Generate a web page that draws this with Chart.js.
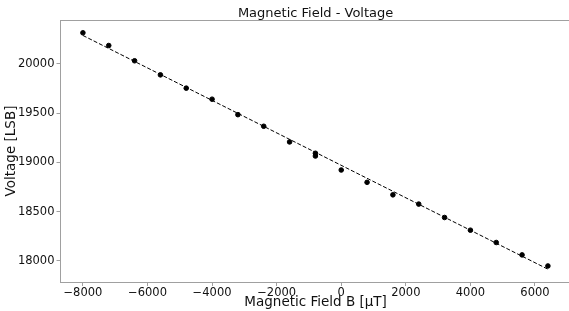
<!DOCTYPE html>
<html>
<head>
<meta charset="utf-8">
<script src="https://cdn.jsdelivr.net/npm/chart.js@4.4.1/dist/chart.umd.min.js"></script>
<style>
  html, body { margin: 0; padding: 0; background: #fff; overflow: hidden; }
  #wrap { width: 574px; height: 311px; position: relative; }
</style>
</head>
<body>
<div id="wrap"><canvas id="field_canvas"></canvas></div>
<script>
// measured points
var fieldB = [-8000, -7200, -6400, -5600, -4800, -4000, -3200, -2400, -1600, -800, -800,
              0, 800, 1600, 2400, 3200, 4000, 4800, 5600, 6400];
var voltage = [20315, 20186, 20031, 19888, 19753, 19641, 19484, 19366, 19207, 19092, 19064,
               18922, 18797, 18670, 18576, 18440, 18311, 18186, 18060, 17948];

// linear fit, end points
var fitB = [-8000, 6400];
var fitVoltage = [20288, 17915];

var xTicks = [-8000, -6000, -4000, -2000, 0, 2000, 4000, 6000];
var yTicks = [18000, 18500, 19000, 19500, 20000];

function toPoints(xs, ys) {
    var pts = [];
    for (let i = 0; i < xs.length; i++) {
        pts.push({x: xs[i], y: ys[i]});
    }
    return pts;
}

// matplotlib style frame (top spine)
var framePlugin = {
    id: 'frame',
    afterDraw: function(chart) {
        var a = chart.chartArea;
        var ctx = chart.ctx;
        ctx.save();
        ctx.strokeStyle = '#a0a0a0';
        ctx.lineWidth = 1;
        ctx.beginPath();
        ctx.moveTo(a.left, a.top + 0.5);
        ctx.lineTo(a.right, a.top + 0.5);
        ctx.stroke();
        ctx.restore();
    }
};

var font = "'DejaVu Sans', sans-serif";

const fieldCanvas = document.getElementById("field_canvas");
const fieldChart = new Chart(fieldCanvas, {
    type: "scatter",
    data: {
        datasets: [{
            label: 'data',
            data: toPoints(fieldB, voltage),
            backgroundColor: '#000',
            borderColor: '#000',
            pointRadius: 2.3,
            pointHoverRadius: 2.3,
            showLine: false
        }, {
            label: 'fit',
            data: toPoints(fitB, fitVoltage),
            borderColor: '#000',
            borderWidth: 1,
            borderDash: [4, 2],
            pointRadius: 0,
            showLine: true,
            fill: false
        }]
    },
    options: {
        responsive: true,
        maintainAspectRatio: false,
        animation: false,
        layout: { padding: 0 },
        plugins: {
            legend: { display: false },
            tooltip: { enabled: false },
            title: {
                display: true,
                text: 'Magnetic Field - Voltage',
                fullSize: false,
                color: '#111',
                font: { family: font, size: 13, weight: 'normal', lineHeight: 1 },
                padding: { top: 7, bottom: 0 }
            }
        },
        scales: {
            x: {
                type: 'linear',
                min: -8694,
                max: 7106,
                afterFit: function(scale) { scale.height = 29; },
                afterBuildTicks: function(scale) {
                    scale.ticks = xTicks.map(function(v) { return {value: v}; });
                },
                border: { color: '#a0a0a0', width: 1 },
                grid: { drawOnChartArea: false, color: '#a0a0a0', tickLength: 4 },
                ticks: {
                    color: '#111',
                    padding: 0,
                    maxRotation: 0,
                    font: { family: font, size: 11.5 },
                    callback: function(v) { return String(v).replace('-', '\u2212'); }
                },
                title: {
                    display: true,
                    text: 'Magnetic Field B [\u03bcT]',
                    color: '#111',
                    font: { family: font, size: 13.5, lineHeight: 1.2 },
                    padding: { top: 0, bottom: 0.5 }
                }
            },
            y: {
                type: 'linear',
                min: 17785,
                max: 20445,
                afterFit: function(scale) { scale.width = 60.5; },
                afterBuildTicks: function(scale) {
                    scale.ticks = yTicks.map(function(v) { return {value: v}; });
                },
                border: { color: '#a0a0a0', width: 1 },
                grid: { drawOnChartArea: false, color: '#a0a0a0', tickLength: 4 },
                ticks: {
                    color: '#111',
                    padding: 2,
                    font: { family: font, size: 11.5 },
                    callback: function(v) { return String(v); }
                },
                title: {
                    display: true,
                    text: 'Voltage [LSB]',
                    color: '#111',
                    font: { family: font, size: 13.5, lineHeight: 1.2 },
                    padding: { top: 3, bottom: 0 }
                }
            }
        }
    },
    plugins: [framePlugin]
});
</script>
</body>
</html>
